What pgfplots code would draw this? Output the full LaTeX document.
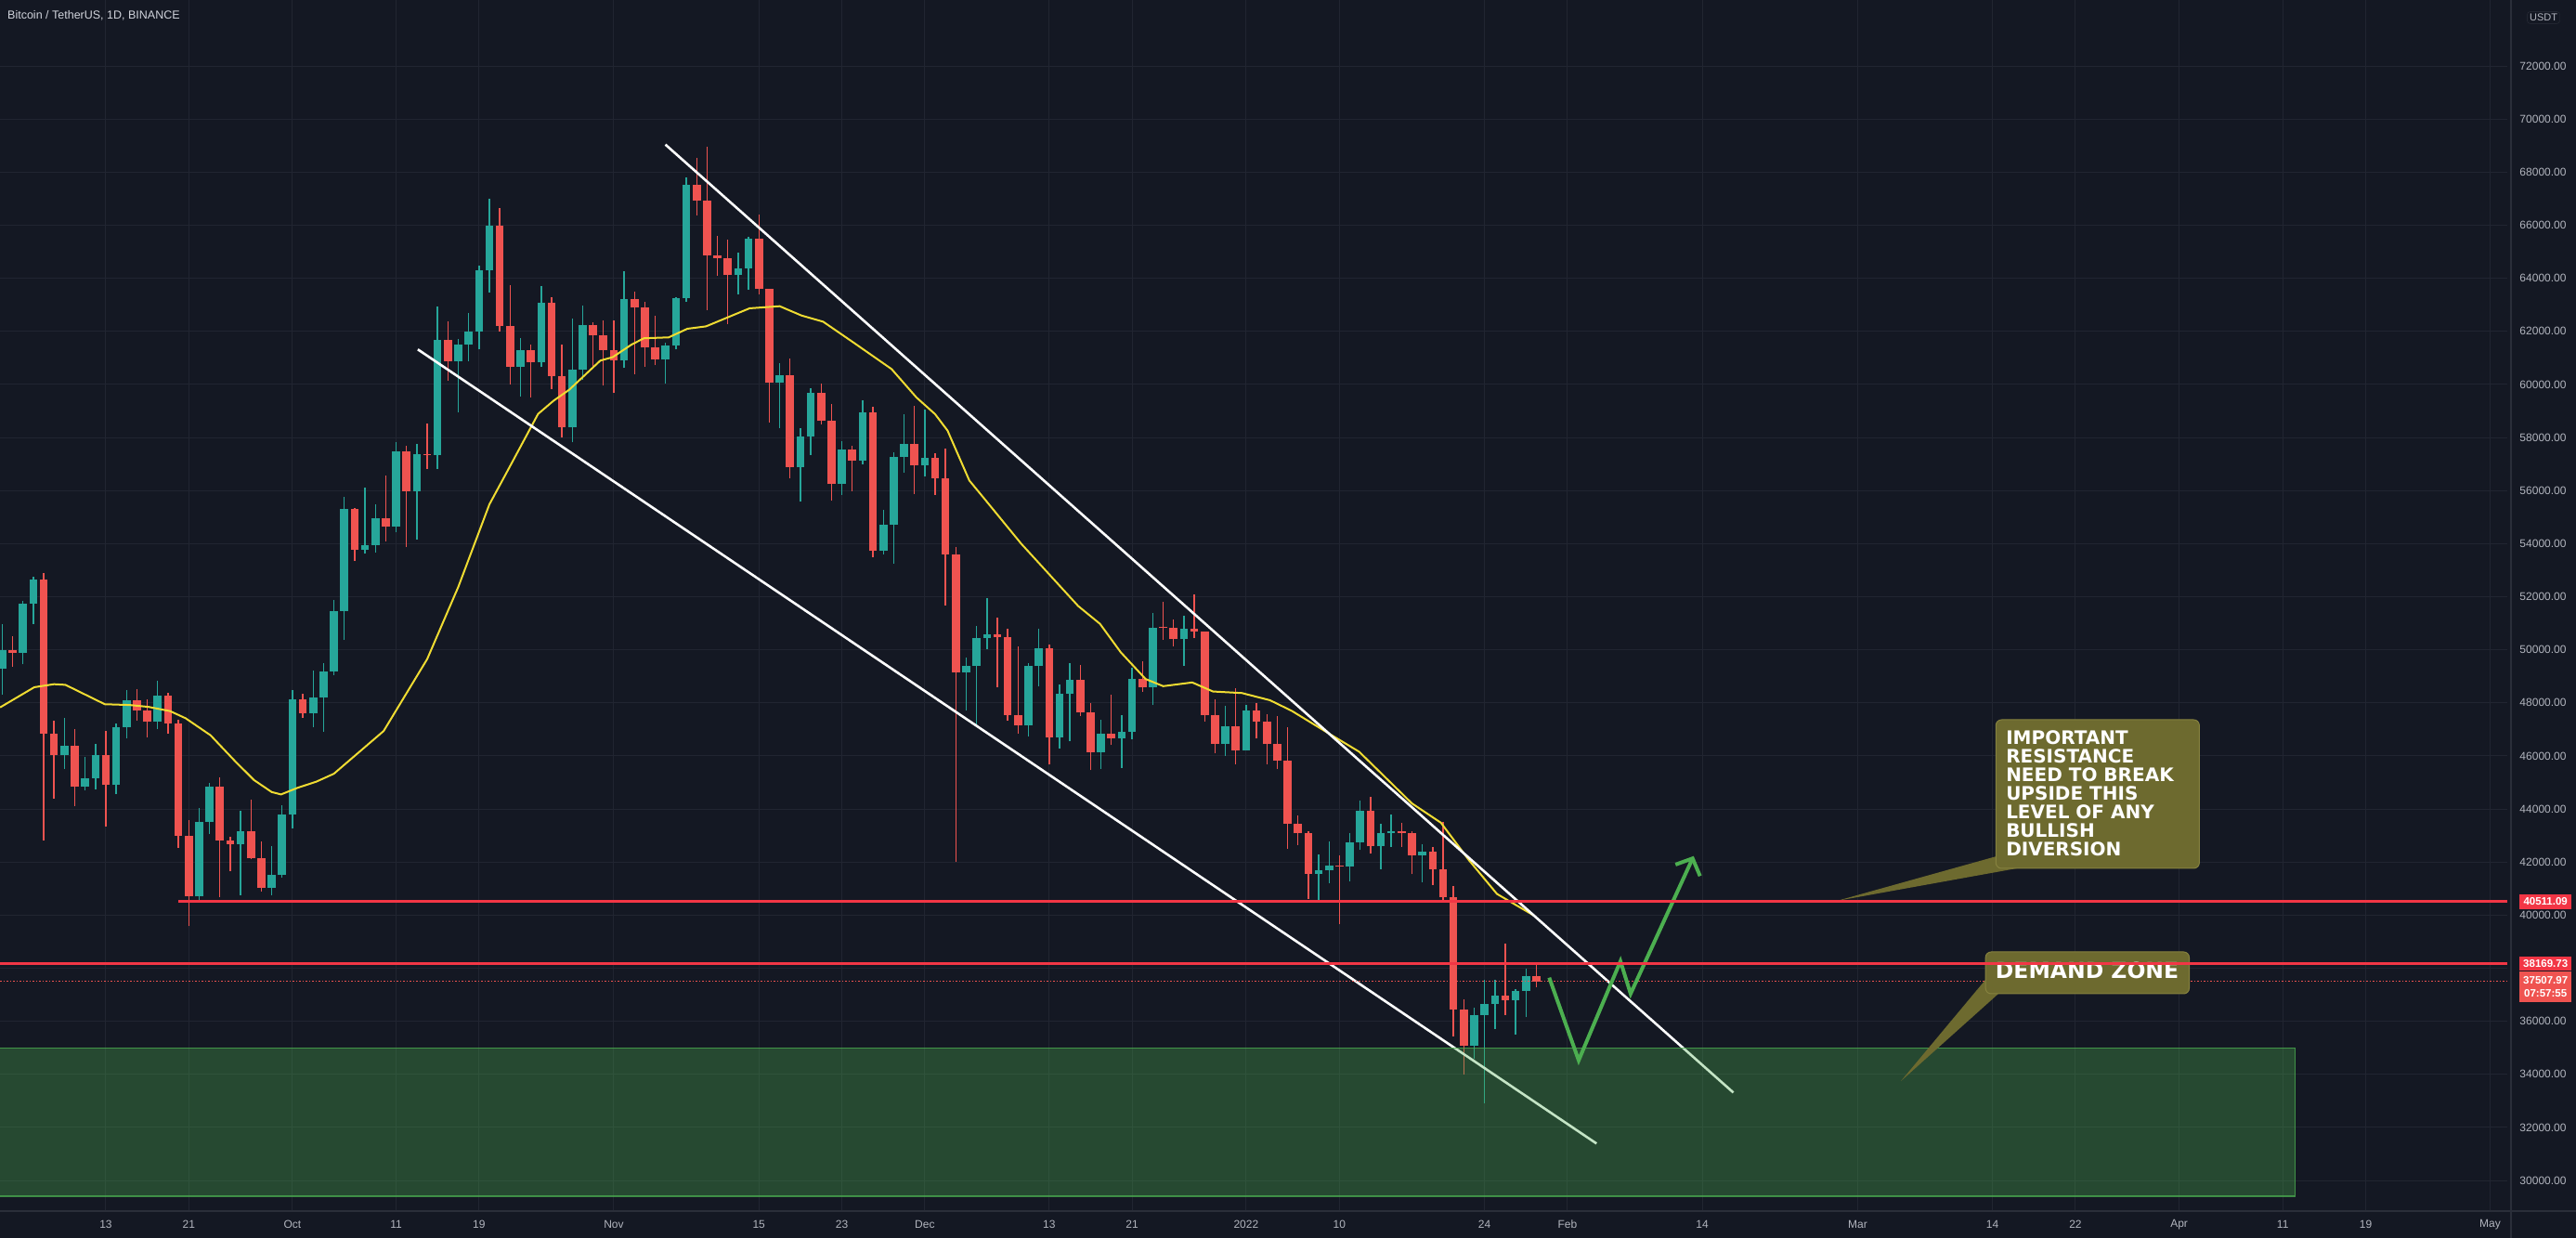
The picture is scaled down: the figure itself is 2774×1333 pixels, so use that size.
\documentclass[border=0pt]{standalone}
\usepackage{pgfplots}
\pgfplotsset{compat=1.18}
\usepackage{pgfplotstable}
\usepackage{fontspec}
\setmainfont{Liberation Sans}
\newfontfamily\dejavu{DejaVu Sans}
\definecolor{bg}{HTML}{141823}
\definecolor{gridc}{HTML}{212531}
\definecolor{sepc}{HTML}{2A2E39}
\definecolor{tickc}{HTML}{B2B5BE}
\definecolor{titlec}{HTML}{D1D4DC}
\definecolor{upc}{HTML}{26A69A}
\definecolor{dnc}{HTML}{EF5350}
\definecolor{mac}{HTML}{F0DC32}
\definecolor{lvl}{HTML}{F23645}
\definecolor{tagred}{HTML}{F23645}
\definecolor{tagred2}{HTML}{EF5350}
\definecolor{zonec}{HTML}{4CAF50}
\definecolor{arrowc}{HTML}{4CAF50}
\definecolor{boxc}{HTML}{6D6A2F}
\definecolor{boxb}{HTML}{86823F}

\pgfplotstableread{
d o h l c
-28 49280 50980 48300 49990
-26 49900 51860 49450 51750
-25 51750 52765 50970 52660
-22 46050 47420 45500 46380
-20 44840 45980 44720 45160
-19 45160 46450 44740 46020
-17 44900 47210 44560 47100
-16 47100 48480 46660 48100
-13 47280 48845 47010 48280
-9 40700 44040 40540 43530
-8 43530 44980 43070 44860
-5 42680 43950 40750 43180
-2 41020 42590 40750 41520
-1 41520 44130 41410 43800
0 43800 48500 43280 48140
2 47620 49230 47090 48200
3 48200 49500 46900 49190
4 49190 51890 49050 51470
5 51470 55750 50380 55320
7 53780 56100 53620 53950
8 53950 55490 53660 54950
10 54650 57840 54420 57480
12 55990 57750 54170 57360
14 57340 62930 56830 61670
16 60870 61720 58960 61520
17 61520 62700 60890 62000
18 62000 64490 61320 64300
19 64300 66990 63480 65990
22 60680 61750 59560 61280
24 60850 63710 60650 63070
27 58400 62500 57820 60570
28 60570 62980 60170 62250
32 60900 64270 60620 63220
36 60930 61560 60050 61470
37 61470 63290 61320 63270
38 63270 67790 63120 67520
43 64120 64970 63400 64380
44 64380 65550 63580 65500
47 60060 60820 58370 60340
49 56890 58370 55580 58050
50 58050 59850 57350 59700
53 56240 57880 55840 57540
55 57130 59400 57000 58960
57 53720 55280 53610 54720
58 54720 57450 53260 57270
59 57270 58870 56670 57770
61 56950 59040 56550 57220
65 49150 49700 47730 49400
66 49400 50890 47100 50440
67 50440 51940 50040 50590
71 47140 49490 46750 49390
72 49390 50800 48640 50050
74 46700 48700 46290 48340
75 48340 49500 46550 48860
78 46130 47360 45500 46830
80 46680 47540 45560 46910
81 46910 49330 46630 48890
83 48590 51380 47920 50840
86 50400 51280 49410 50780
90 46460 47900 46000 47120
92 46220 47940 46210 47720
99 41560 42300 40500 41680
100 41680 42790 41200 41860
102 41820 43100 41270 42740
103 42740 44320 42450 43950
105 42590 43450 41730 43100
106 43100 43800 42580 43180
109 42250 42690 41250 42380
114 35070 36500 34600 36250
115 36250 37550 32920 36660
116 36660 37550 35700 36960
118 36810 37230 35510 37160
119 37160 38000 36150 37710
}\upT

\pgfplotstableread{
d o h l c
-27 49990 50515 49360 49900
-24 52660 52905 42815 46850
-23 46850 47330 44390 46050
-21 46380 47015 44100 44840
-18 46020 46930 43340 44900
-15 48100 48535 47340 47720
-14 47720 48125 46700 47280
-12 48280 48370 46830 47240
-11 47240 47350 42525 43000
-10 43000 43600 39580 40700
-7 44860 45200 40680 42810
-6 42810 42970 41650 42680
-4 43180 44350 42100 42150
-3 42150 42790 40890 41020
1 48140 48340 47430 47620
6 55320 55340 53360 53780
9 54950 56580 54080 54650
11 57480 57680 53870 55990
13 57360 58530 56820 57340
15 61670 62380 60150 60870
20 65990 66640 62000 62190
21 62190 63730 60000 60680
23 61280 61500 59510 60850
25 63070 63290 59820 60320
26 60320 61500 58000 58400
29 62250 62360 60670 61850
30 61850 62400 59950 61300
31 61300 62420 59700 60900
33 63220 63500 60380 62890
34 62890 63120 60680 61390
35 61390 62600 60720 60930
39 67520 68525 66380 66940
40 66940 68970 62810 64880
41 64880 65600 64100 64770
42 64770 65460 62280 64120
45 65500 66400 63400 63600
46 63600 63620 58560 60060
48 60340 60980 56470 56890
51 59700 60030 58490 58620
52 58620 59270 55610 56240
54 57540 57700 55990 57130
56 58960 59150 53500 53720
60 57770 59180 55880 56950
62 57220 57400 55850 56480
63 56480 57600 51680 53600
64 53600 53860 42010 49150
68 50590 51200 48600 50470
69 50470 50800 47320 47540
70 47540 50130 46850 47140
73 50050 50190 45670 46700
76 48860 49440 47510 47630
77 47630 47990 45460 46130
79 46830 48300 46410 46680
82 48890 49580 48420 48590
84 50840 51810 50380 50820
85 50820 51160 50140 50400
87 50780 52090 50450 50700
88 50700 50700 47310 47540
89 47540 48140 46100 46460
91 47120 48550 45680 46220
93 47720 47990 46650 47290
94 47290 47570 45700 46440
95 46440 47510 45500 45830
96 45830 47070 42500 43450
97 43450 43750 42650 43080
98 43080 43150 40610 41560
101 41860 42250 39650 41820
104 43950 44460 42310 42590
107 43180 43480 42580 43110
108 43110 43180 41540 42250
110 42380 42560 41140 41740
111 41740 43500 40550 40680
112 40680 41100 35440 36450
113 36450 36840 34010 35070
117 36960 38920 36230 36810
120 37710 38150 37300 37508
}\downT

\begin{document}
\begin{tikzpicture}[x=1pt,y=1pt]
\useasboundingbox (0,0) rectangle (2774,1333);
\fill[bg] (0,0) rectangle (2774,1333);
\begin{axis}[
  at={(0pt,29pt)}, anchor=south west,
  width=2700pt, height=1304pt, scale only axis,
  xmin=-28.209, xmax=213.66, ymin=28848.4, ymax=74490.8,
  enlargelimits=false,
  scaled x ticks=false, scaled y ticks=false,
  axis line style={draw=none},
  major tick length=0pt,
  grid=major, major grid style={draw=gridc, line width=1pt},
  xtick={-18,-10,0,10,18,31,45,53,61,73,81,92,101,115,123,136,151,164,172,182,192,200,212},
  xticklabels={13,21,Oct,11,19,Nov,15,23,Dec,13,21,2022,10,24,Feb,14,Mar,14,22,Apr,11,19,May},
  xticklabel style={anchor=center, yshift=-14.5pt, font=\fontsize{12}{12}\selectfont, text=tickc},
  ytick={30000,32000,34000,36000,38000,40000,42000,44000,46000,48000,50000,52000,54000,56000,58000,60000,62000,64000,66000,68000,70000,72000},
  yticklabels={30000.00,32000.00,34000.00,36000.00,{},40000.00,42000.00,44000.00,46000.00,48000.00,50000.00,52000.00,54000.00,56000.00,58000.00,60000.00,62000.00,64000.00,66000.00,68000.00,70000.00,72000.00},
  yticklabel pos=right,
  yticklabel style={anchor=center, xshift=38.5pt, font=\fontsize{12}{12}\selectfont, text=tickc},
]
% wicks
\addplot[draw=none, mark=none, forget plot, error bars/.cd, y dir=plus, y explicit, error mark=none,
  error bar style={draw=upc, line width=1.4pt}]
  table[x=d, y=l, y error expr=\thisrow{h}-\thisrow{l}] {\upT};
\addplot[draw=none, mark=none, forget plot, error bars/.cd, y dir=plus, y explicit, error mark=none,
  error bar style={draw=dnc, line width=1.4pt}]
  table[x=d, y=l, y error expr=\thisrow{h}-\thisrow{l}] {\downT};
% bodies
\addplot[draw=none, mark=none, forget plot, error bars/.cd, y dir=plus, y explicit, error mark=none,
  error bar style={draw=upc, line width=8.6pt}]
  table[x=d, y=o, y error expr={max(\thisrow{c}-\thisrow{o},45)}] {\upT};
\addplot[draw=none, mark=none, forget plot, error bars/.cd, y dir=plus, y explicit, error mark=none,
  error bar style={draw=dnc, line width=8.6pt}]
  table[x=d, y=c, y error expr={max(\thisrow{o}-\thisrow{c},45)}] {\downT};
% moving average
\addplot[color=mac, line width=2pt, mark=none] coordinates {
(-28.2,47830) (-24.9,48590) (-23.0,48705) (-21.9,48680) (-18.1,47950) (-15.7,47920)
(-13.9,47850) (-11.8,47690) (-10.3,47420) (-7.9,46780) (-5.5,45790) (-3.7,45090)
(-2.0,44640) (-1.1,44550) (0.5,44800) (2.3,45030) (4.0,45330) (8.8,46940) (13.0,49650)
(16.0,52370) (19.0,55480) (20.8,56780) (23.7,58890) (25.2,59390) (26.7,59800)
(29.7,60900) (30.9,61030) (32.7,61500) (33.9,61740) (36.3,61775) (38.1,62100)
(39.9,62190) (44.1,62870) (47.0,62950) (49.1,62600) (51.2,62365) (54.2,61560)
(57.8,60580) (60.2,59510) (62.0,58880) (63.2,58260) (65.3,56380) (66.8,55670)
(70.3,54000) (75.8,51650) (77.9,50980) (79.9,49910) (82.3,48900) (84.0,48630)
(86.8,48770) (88.8,48430) (91.6,48370) (94.3,48100) (96.4,47700) (99.5,46960)
(102.9,46160) (108.0,44210) (110.8,43480) (113.5,42070) (116.2,40800) (119.7,40000)
};
% channel lines
\addplot[white, line width=2.6pt, mark=none] coordinates {(35.98,69041) (139.0,33315)};
\addplot[white, line width=2.6pt, mark=none] coordinates {(12.1,61320) (125.8,31393)};
% current price dotted line
\addplot[color=dnc, line width=1pt, dash pattern=on 1.5pt off 2pt, mark=none] coordinates {(-28.209,37507.97) (213.66,37507.97)};
% demand zone
\fill[zonec, fill opacity=0.33] (axis cs:-30,35000) rectangle (axis cs:193.2,29410);
\draw[zonec, draw opacity=0.75, line width=1.2pt] (axis cs:-30,35000) -- (axis cs:193.2,35000) -- (axis cs:193.2,29410) -- (axis cs:-30,29410);
% green projection arrow
\addplot[color=arrowc, line width=4pt, mark=none] coordinates {(121.24,37644) (124.08,34529) (128.11,38264) (129.09,37039) (135.07,42139)};
\addplot[color=arrowc, line width=4pt, mark=none] coordinates {(133.42,41906) (135.07,42139) (135.79,41474)};
% callout 1
\fill[boxc] (axis cs:148.99,40539) -- (axis cs:164.39,42219) -- (axis cs:166.36,41764) -- cycle;
\filldraw[fill=boxc, draw=boxb, line width=1pt, rounded corners=6pt] (axis cs:164.33,47364) rectangle (axis cs:183.95,41764);
\node[anchor=north west, inner sep=0pt, align=left, text=white, font=\dejavu\bfseries\fontsize{20}{20}\selectfont]
  at (axis cs:165.29,46955) {IMPORTANT\\RESISTANCE\\NEED TO BREAK\\UPSIDE THIS\\LEVEL OF ANY\\BULLISH\\DIVERSION};
% callout 2
\fill[boxc] (axis cs:155.17,33749) -- (axis cs:163.32,37564) -- (axis cs:164.57,37039) -- cycle;
\filldraw[fill=boxc, draw=boxb, line width=1pt, rounded corners=6pt] (axis cs:163.33,38614) rectangle (axis cs:182.98,37039);
\node[anchor=base west, inner sep=0pt, text=white, font=\dejavu\bfseries\fontsize{23.5}{24}\selectfont]
  at (axis cs:164.28,37624) {DEMAND ZONE};
% key levels
\addplot[color=lvl, line width=3pt, mark=none] coordinates {(-11,40511.09) (213.66,40511.09)};
\addplot[color=lvl, line width=3pt, mark=none] coordinates {(-28.209,38169.73) (213.66,38169.73)};
\coordinate (tA) at (axis cs:213.66,40511.09);
\coordinate (tB) at (axis cs:213.66,38169.73);
\coordinate (tC) at (axis cs:213.66,37507.97);
\end{axis}
% separators
\draw[sepc, line width=1.2pt] (2704,0) -- (2704,1333);
\draw[sepc, line width=1.2pt] (0,29) -- (2774,29);
% price tags
\node[fill=tagred, text=white, font=\bfseries\fontsize{11.5}{12}\selectfont, anchor=west, minimum width=56pt, minimum height=15.5pt, inner sep=0pt] at ([xshift=13pt]tA) {40511.09};
\node[fill=tagred, text=white, font=\bfseries\fontsize{11.5}{12}\selectfont, anchor=west, minimum width=56pt, minimum height=14.5pt, inner sep=0pt] at ([xshift=13pt]tB) {38169.73};
\node[fill=tagred2, text=white, font=\bfseries\fontsize{11.5}{14}\selectfont, anchor=north west, minimum width=56pt, minimum height=33.5pt, inner sep=0pt, align=center] at ([xshift=13pt,yshift=11pt]tC) {37507.97\\07:57:55};
% title and currency
\node[anchor=west, inner sep=0pt, text=titlec, font=\fontsize{12.5}{13}\selectfont] at (8,1316) {Bitcoin / TetherUS, 1D, BINANCE};
\node[draw=sepc, rounded corners=3pt, text=tickc, font=\fontsize{11}{11}\selectfont, inner sep=2.5pt] at (2739,1314) {USDT};
\end{tikzpicture}
\end{document}
